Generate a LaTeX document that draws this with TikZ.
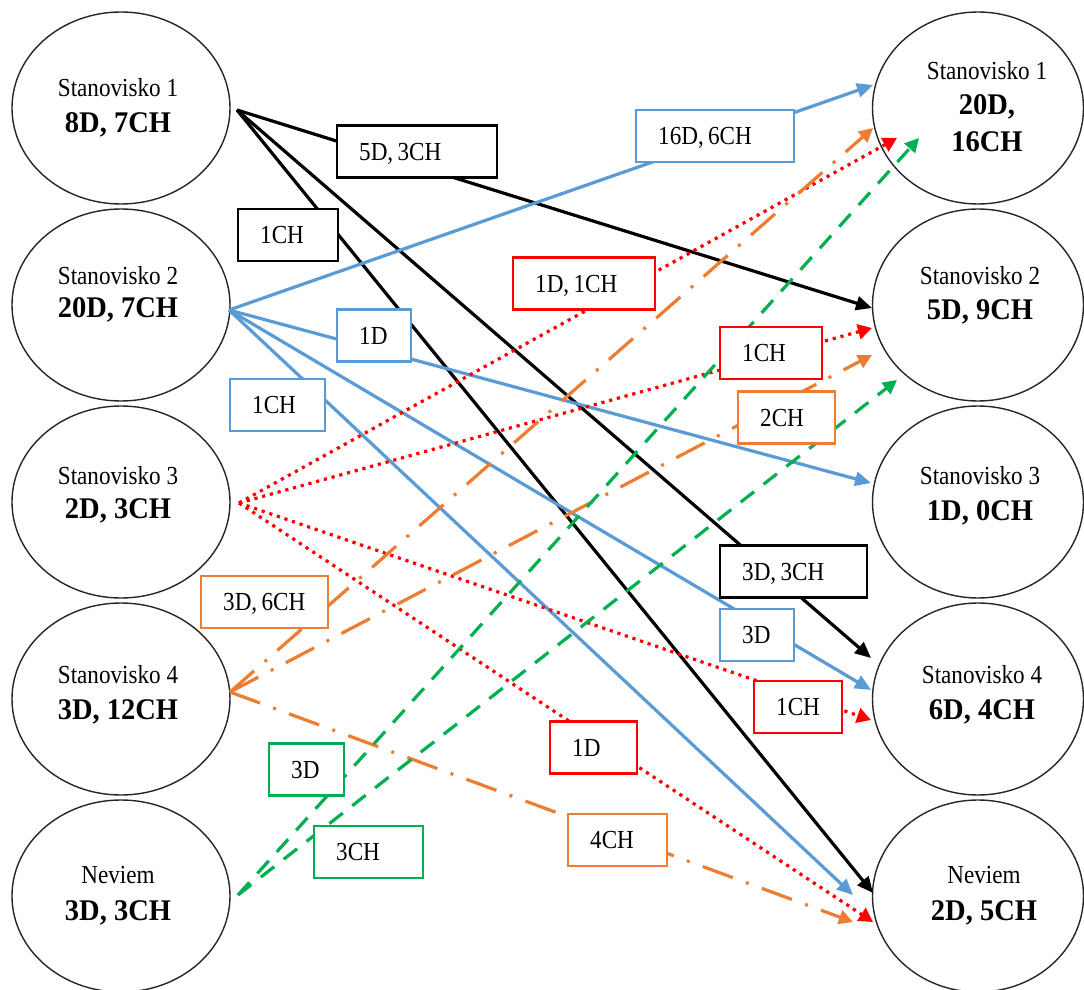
\documentclass[tikz,border=0pt]{standalone}
\usepackage{fontspec}
\setmainfont{Liberation Serif}
\newfontfamily\regf[FakeStretch=0.89]{Liberation Serif}
\newfontfamily\bldf[FakeStretch=0.95]{Liberation Serif}
\usetikzlibrary{shapes.geometric,arrows.meta}
\definecolor{cblue}{RGB}{91,155,213}
\definecolor{cred}{RGB}{255,0,0}
\definecolor{corange}{RGB}{237,125,49}
\definecolor{cgreen}{RGB}{0,176,80}
\begin{document}
\begin{tikzpicture}[x=0.5pt,y=-0.5pt,
  ell/.style={ellipse, draw=black!85, line width=0.7pt, inner sep=0pt, minimum height=96pt},
  lell/.style={ell, minimum width=109pt},
  rell/.style={ell, minimum width=105.5pt},
  nm/.style={anchor=base, inner sep=0pt, font=\regf\fontsize{13}{15}\selectfont},
  nb/.style={anchor=base, inner sep=0pt, font=\bldf\bfseries\fontsize{15}{17}\selectfont},
  con/.style={line width=1.6pt},
  blk/.style={con, black, -{Triangle[length=8pt,width=7pt]}},
  blu/.style={con, cblue, -{Triangle[length=8pt,width=7pt]}},
  rdot/.style={con, cred, dash pattern=on 1.6pt off 2.4pt, -{Triangle[length=7pt,width=7.5pt]}},
  org/.style={con, corange, dash pattern=on 16pt off 7pt on 1.5pt off 7pt, -{Triangle[length=7pt,width=7pt]}},
  grn/.style={con, cgreen, dash pattern=on 8.5pt off 6pt, -{Triangle[length=7pt,width=7pt]}},
  lbl/.style={draw=#1, fill=white, line width=1.2pt, anchor=west, minimum height=26pt,
    inner xsep=11pt, inner ysep=0pt, align=left, font=\regf\fontsize{13}{15}\selectfont,
    text height=8.6pt, text depth=0pt}
]
\useasboundingbox (0,0) rectangle (1084,990);
\fill[white] (0,0) rectangle (1084,990);

% left ellipses
\node[lell] (L1) at (121,108) {};
\node[lell] (L2) at (121,305) {};
\node[lell] (L3) at (121,502) {};
\node[lell] (L4) at (121,699) {};
\node[lell] (L5) at (121,896) {};
% right ellipses
\node[rell] (R1) at (978,108) {};
\node[rell] (R2) at (978,305) {};
\node[rell] (R3) at (978,502) {};
\node[rell] (R4) at (978,699) {};
\node[rell] (R5) at (978,896) {};

% ports
\coordinate (s1) at ([shift={(116,2)}]L1.center);
\coordinate (s2) at ([shift={(108,5)}]L2.center);
\coordinate (s3) at ([shift={(118,1)}]L3.center);
\coordinate (s4) at ([shift={(109,-7)}]L4.center);
\coordinate (s5) at ([shift={(117,-1)}]L5.center);

% black
\draw[blk] (s1) -- ([shift={(-106,3)}]R2.center);
\draw[blk] (s1) -- ([shift={(-107,-41)}]R4.center);
\draw[blk] (s1) -- ([shift={(-105,-3)}]R5.center);
% blue
\draw[blu] (s2) -- ([shift={(-105,-23)}]R1.center);
\draw[blu] (s2) -- ([shift={(-107,-19)}]R3.center);
\draw[blu] (s2) -- ([shift={(-107,-9)}]R4.center);
\draw[blu] (s2) -- ([shift={(-125,-1)}]R5.center);
% red
\draw[rdot] (s3) -- ([shift={(-81,30)}]R1.center);
\draw[rdot] (s3) -- ([shift={(-106,23)}]R2.center);
\draw[rdot] (s3) -- ([shift={(-107,21)}]R4.center);
\draw[rdot] (s3) -- ([shift={(-105,26)}]R5.center);
% orange
\draw[org] (s4) -- ([shift={(-105,20)}]R1.center);
\draw[org] (s4) -- ([shift={(-106,50)}]R2.center);
\draw[org] (s4) -- ([shift={(-125,26)}]R5.center);
% green
\draw[grn] (s5) -- ([shift={(-59,30)}]R1.center);
\draw[grn] (s5) -- ([shift={(-81,75)}]R2.center);

% labels
\node[lbl=black, text width=58pt] (a1) at (336,151.5) {\mbox{5D,\,3CH}};
\node[lbl=black, text width=28pt] (a2) at (237,235) {\mbox{1CH}};
\node[lbl=black, text width=51.5pt] (a3) at (719,571.5) {\mbox{3D,\,3CH}};
\node[lbl=cblue, text width=57pt] (b1) at (635,136) {\mbox{16D,\,6CH}};
\node[lbl=cblue, text width=15pt] (b2) at (336,335.5) {\mbox{1D}};
\node[lbl=cblue, text width=25.5pt] (b3) at (229,405) {\mbox{1CH}};
\node[lbl=cblue, text width=15pt] (b4) at (719,635) {\mbox{3D}};
\node[lbl=cred, text width=49pt] (c1) at (512,283.5) {\mbox{1D,\,1CH}};
\node[lbl=cred, text width=29pt] (c2) at (719,353) {\mbox{1CH}};
\node[lbl=cred, text width=22pt] (c3) at (753,707) {\mbox{1CH}};
\node[lbl=cred, text width=21.5pt] (c4) at (549,747.5) {\mbox{1D}};
\node[lbl=corange, text width=26.5pt] (d1) at (737,417.5) {\mbox{2CH}};
\node[lbl=corange, text width=41.5pt] (d2) at (200,602) {\mbox{3D,\,6CH}};
\node[lbl=corange, text width=27.5pt] (d3) at (567,840) {\mbox{4CH}};
\node[lbl=cgreen, text width=15.5pt] (e1) at (268,769.5) {\mbox{3D}};
\node[lbl=cgreen, text width=32.5pt] (e2) at (313,852) {\mbox{3CH}};

% ellipse texts
\node[nm] (L1a) at (118,97) {Stanovisko 1};
\node[nb] (L1b) at (118,133) {8D, 7CH};
\node[nm] (L2a) at (118,285) {Stanovisko 2};
\node[nb] (L2b) at (118,318) {20D, 7CH};
\node[nm] (L3a) at (118,485) {Stanovisko 3};
\node[nb] (L3b) at (118,518) {2D, 3CH};
\node[nm] (L4a) at (118,683) {Stanovisko 4};
\node[nb] (L4b) at (118,719) {3D, 12CH};
\node[nm] (L5a) at (118,883) {Neviem};
\node[nb] (L5b) at (118,920) {3D, 3CH};

\node[nm] (R1a) at (987,80) {Stanovisko 1};
\node[nb] (R1b) at (987,115) {20D,};
\node[nb] (R1c) at (987,152) {16CH};
\node[nm] (R2a) at (980,285) {Stanovisko 2};
\node[nb] (R2b) at (980,320) {5D, 9CH};
\node[nm] (R3a) at (980,485) {Stanovisko 3};
\node[nb] (R3b) at (980,521) {1D, 0CH};
\node[nm] (R4a) at (982,683) {Stanovisko 4};
\node[nb] (R4b) at (982,719) {6D, 4CH};
\node[nm] (R5a) at (984,883) {Neviem};
\node[nb] (R5b) at (984,920) {2D, 5CH};
\end{tikzpicture}
\end{document}
